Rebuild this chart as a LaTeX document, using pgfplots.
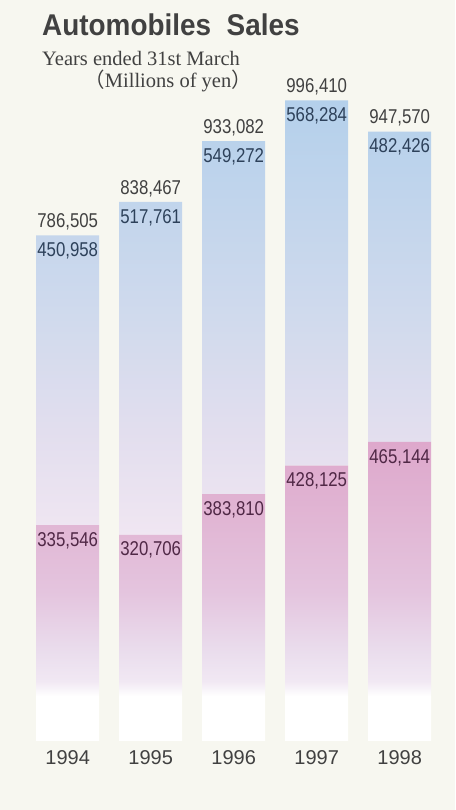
\documentclass[border=0pt]{standalone}
\usepackage{pgfplots}
\pgfplotsset{compat=1.18}
\usepackage{pgfplotstable}
\usepackage{fontspec}
\setmainfont{Liberation Sans}
\newfontfamily\serif{Liberation Serif}
\newfontfamily\cjk{Noto Sans CJK JP}
\newfontfamily\narrow[FakeStretch=0.84]{Liberation Sans}
\newfontfamily\titlefont[FakeStretch=0.93]{Liberation Sans Bold}

\definecolor{bg}{RGB}{247,247,240}
\definecolor{txtgray}{RGB}{65,65,65}
\definecolor{bluelab}{RGB}{45,65,90}
\definecolor{pinklab}{RGB}{80,40,70}
% blue segment, top to bottom
\definecolor{blueA}{RGB}{180,208,235}
\definecolor{blueB}{RGB}{208,218,237}
\definecolor{blueC}{RGB}{226,222,238}
\definecolor{blueD}{RGB}{240,230,242}
% pink segment, top to bottom
\definecolor{pinkA}{RGB}{222,168,204}
\definecolor{pinkB}{RGB}{225,182,212}
\definecolor{pinkC}{RGB}{228,196,222}
\definecolor{pinkD}{RGB}{234,221,237}
\definecolor{pinkE}{RGB}{241,232,243}

% the part from 25bp to 75bp covers the bar
\pgfdeclareverticalshading{bluefade}{100bp}{color(0bp)=(blueD); color(25bp)=(blueD);
  color(37bp)=(blueC); color(50bp)=(blueB); color(75bp)=(blueA); color(100bp)=(blueA)}
\pgfdeclareverticalshading{pinkfade}{100bp}{color(0bp)=(white); color(25bp)=(white);
  color(32.5bp)=(white); color(35bp)=(pinkE); color(40bp)=(pinkD); color(50bp)=(pinkC);
  color(62bp)=(pinkB); color(75bp)=(pinkA); color(100bp)=(pinkA)}

% sales in yen (millions), lower part and upper part of each year
\pgfplotstableread{
x pink   blue   tot    pinklab bluelab totlab
0 335546 450958 786505 335,546 450,958 786,505
1 320706 517761 838467 320,706 517,761 838,467
2 383810 549272 933082 383,810 549,272 933,082
3 428125 568284 996410 428,125 568,284 996,410
4 465144 482426 947570 465,144 482,426 947,570
}\sales

\pgfplotsset{
  frame/.style={
    at={(26.2pt,69pt)}, anchor=south west,
    scale only axis, width=415pt, height=643pt,
    xmin=-0.5, xmax=4.5, ymin=0, ymax=1000000,
    clip=false,
  },
}
\tikzset{numlab/.style={inner sep=0pt, font=\narrow\fontsize{20}{24}\selectfont}}

\begin{document}
\begin{tikzpicture}
\useasboundingbox (0pt,0pt) rectangle (455pt,810pt);
\fill[bg] (0pt,0pt) rectangle (455pt,810pt);

\begin{axis}[
  frame,
  ybar stacked, bar width=63pt,
  axis line style={draw=none},
  major tick length=0pt,
  ytick=\empty, scaled y ticks=false,
  xtick={0,...,4},
  xticklabels={1994,1995,1996,1997,1998},
  xticklabel style={font=\fontsize{20}{24}\selectfont, text=txtgray,
    inner sep=0pt, anchor=north, yshift=-9pt},
]
\addplot[draw=none, shade, shading=pinkfade] table[x=x, y=pink]{\sales};
\addplot[draw=none, shade, shading=bluefade] table[x=x, y=blue]{\sales};
\end{axis}

% value labels, at the tops of the two parts
\begin{axis}[frame, hide axis, point meta=explicit symbolic, nodes near coords]
\addplot[only marks, mark=none,
  every node near coord/.append style={numlab, anchor=north, yshift=-7pt, text=pinklab}]
  table[x=x, y=pink, meta=pinklab]{\sales};
\addplot[only marks, mark=none,
  every node near coord/.append style={numlab, anchor=north, yshift=-7pt, text=bluelab}]
  table[x=x, y=tot, meta=bluelab]{\sales};
\addplot[only marks, mark=none,
  every node near coord/.append style={numlab, anchor=south, yshift=5pt, text=txtgray}]
  table[x=x, y=tot, meta=totlab]{\sales};
\end{axis}

\node[anchor=base west, inner sep=0pt, text=txtgray, font=\titlefont\fontsize{30}{34}\selectfont]
  at (42pt,774pt) {Automobiles\ \ Sales};
\node[anchor=base west, inner sep=0pt, text=txtgray, font=\serif\fontsize{20.5}{24}\selectfont]
  at (42pt,744pt) {Years ended 31st March};
\node[anchor=base east, inner sep=0pt, text=txtgray, font=\serif\fontsize{20.5}{24}\selectfont]
  at (252pt,722.7pt) {{\cjk （}Millions of yen{\cjk ）}};
\end{tikzpicture}
\end{document}
